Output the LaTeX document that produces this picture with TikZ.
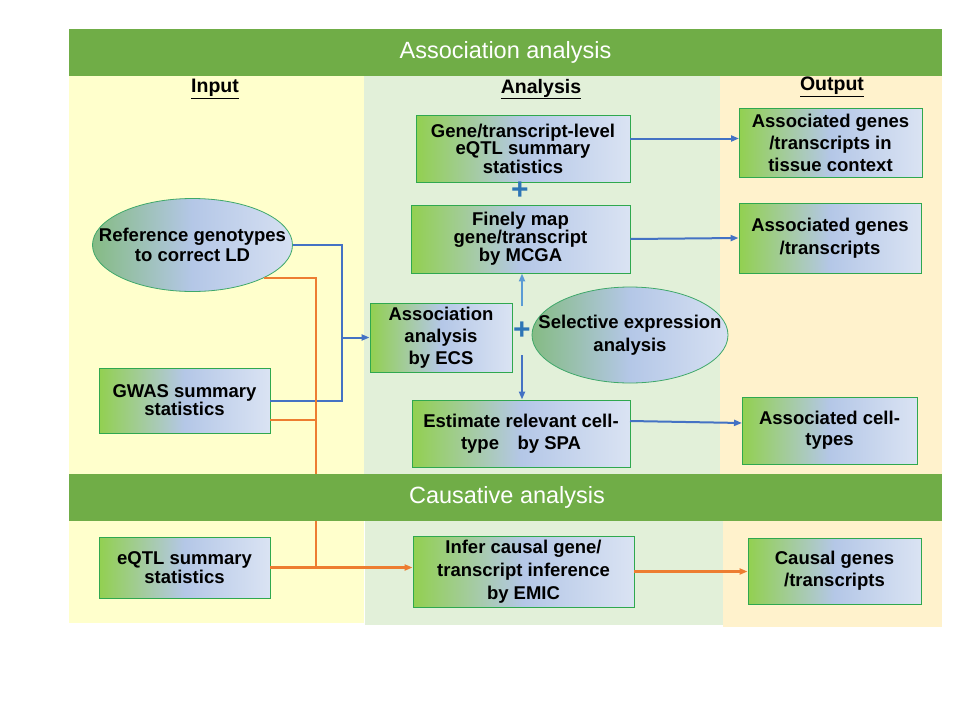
\documentclass[tikz,border=0pt]{standalone}
\usepackage{fontspec}
\setmainfont{Liberation Sans}
\usetikzlibrary{shapes.geometric,arrows.meta,calc}
\definecolor{barG}{HTML}{70AD47}
\definecolor{colY}{HTML}{FFFFCC}
\definecolor{colG}{HTML}{E2F0D9}
\definecolor{colO}{HTML}{FFF2CC}
\definecolor{bord}{HTML}{2FA84F}
\definecolor{gL}{HTML}{92D050}
\definecolor{gM}{HTML}{B4C7E7}
\definecolor{gR}{HTML}{DAE3F3}
\definecolor{eL}{HTML}{85BB84}
\definecolor{eM}{HTML}{B4C7E7}
\definecolor{eR}{HTML}{D6E0F2}
\definecolor{eBord}{HTML}{3FA86A}
\definecolor{ablue}{HTML}{4472C4}
\definecolor{lblue}{HTML}{5B9BD5}
\definecolor{plusb}{HTML}{2E75B6}
\definecolor{aorange}{HTML}{ED7D31}
\begin{document}
\begin{tikzpicture}[x=1pt,y=-1pt,
  box/.style={draw=bord, line width=0.9pt, left color=gL, right color=gR, middle color=gM,
              align=center, inner sep=0pt, text=black},
  ell/.style={ellipse, draw=eBord, line width=0.8pt, left color=eL, right color=eR, middle color=eM,
              align=center, inner xsep=-26pt, inner ysep=0pt, text=black},
  hdr/.style={inner sep=0pt, font=\fontsize{19.5}{22}\selectfont\bfseries},
  bartxt/.style={inner sep=0pt, text=white, font=\fontsize{23.5}{26}\selectfont},
  blueline/.style={draw=ablue, line width=2pt},
  bluearr/.style={draw=ablue, line width=2pt, -{Triangle[length=8pt,width=6pt]}},
  lbluearr/.style={draw=lblue, line width=2pt, -{Triangle[length=8pt,width=6pt]}},
  orline/.style={draw=aorange, line width=2.2pt},
  orarr/.style={draw=aorange, line width=2.2pt, -{Triangle[length=8pt,width=6pt]}},
  plus/.style={inner sep=0pt, text=plusb, font=\fontsize{30}{30}\selectfont\bfseries}
]
\useasboundingbox (0,0) rectangle (960,720);
\fill[white] (0,0) rectangle (960,720);
% column backgrounds
\fill[colY] (69,76) rectangle (364,623);
\fill[colG] (364,76) rectangle (720,474);
\fill[colG] (365,521) rectangle (723,625);
\fill[colO] (720,76) rectangle (942,474);
\fill[colO] (723,521) rectangle (942,627);
% top bar
\fill[barG] (69,29) rectangle (942,76);
\node[bartxt] (t1) at (505.5,52.5) {Association analysis};
% headers
\node[hdr] (hin) at (215,89) {\underline{Input}};
\node[hdr] (han) at (541,89) {\underline{Analysis}};
\node[hdr] (hout) at (832,87) {\underline{Output}};

% input
\node[ell, minimum width=200, minimum height=93, font=\fontsize{18.5}{20}\selectfont\bfseries] (ref) at (192.5,245) {Reference genotypes\\to correct LD};
\node[box, minimum width=171, minimum height=65, font=\fontsize{18.5}{15.5}\selectfont\bfseries] (gwas) at (184.5,400.5) {GWAS summary\\statistics};
\node[box, minimum width=171, minimum height=61, font=\fontsize{18.5}{17}\selectfont\bfseries] (eqtl) at (184.5,567.5) {eQTL summary\\statistics};

% analysis
\node[box, minimum width=214, minimum height=67, font=\fontsize{18.5}{15.5}\selectfont\bfseries] (gene) at (523,148.5) {Gene/transcript-level\\eQTL summary\\statistics};
\node[plus] (plus1) at (520,191) {+};
\node[box, minimum width=219, minimum height=68, font=\fontsize{18.5}{18}\selectfont\bfseries] (map) at (520.5,239) {Finely map\\gene/transcript\\by MCGA};
\node[box, minimum width=142, minimum height=69, font=\fontsize{18.5}{22}\selectfont\bfseries] (ecs) at (441,337.5) {Association\\analysis\\by ECS};
\node[plus] (plus2) at (522,331) {+};
\node[ell, minimum width=196, minimum height=96, font=\fontsize{18.5}{23}\selectfont\bfseries] (sel) at (630,335) {Selective expression\\analysis};
\node[box, minimum width=218, minimum height=67, font=\fontsize{18.5}{22}\selectfont\bfseries] (est) at (521,433.5) {Estimate relevant cell-\\type\quad by SPA};
\node[box, minimum width=221, minimum height=71, font=\fontsize{18.5}{23}\selectfont\bfseries] (infer) at (523.5,571.5) {Infer causal gene/\\transcript inference\\by EMIC};

% output
\node[box, minimum width=183, minimum height=69, font=\fontsize{18.5}{22}\selectfont\bfseries] (out1) at (830.5,142.5) {Associated genes\\/transcripts in\\tissue context};
\node[box, minimum width=182, minimum height=70, font=\fontsize{18.5}{23}\selectfont\bfseries] (out2) at (830,238) {Associated genes\\/transcripts};
\node[box, minimum width=175, minimum height=67, font=\fontsize{18.5}{21}\selectfont\bfseries] (out3) at (829.5,430.5) {Associated cell-\\types};
\node[box, minimum width=173, minimum height=66, font=\fontsize{18.5}{22}\selectfont\bfseries] (causal) at (834.5,571) {Causal genes\\/transcripts};

% connectors: input -> ECS
\coordinate (j1) at (342,337.5);
\draw[blueline] (ref.east) -| (j1);
\draw[blueline] (gwas.east) -| (j1);
\draw[bluearr] (j1) -- (ecs.west);
% orange connectors
\coordinate (oj) at (316,567.5);
\coordinate (gwo) at (270,420);
\draw[orline] (ref.-25) -| (oj);
\draw[orline] (gwo) -- (gwo -| oj);
\draw[orarr] (eqtl.east) -- (eqtl.east -| infer.west);
\draw[orarr] (infer.east) -- (infer.east -| causal.west);
% analysis -> output
\coordinate (a1) at (630,138.5);
\coordinate (b1) at (739,138.5);
\draw[bluearr] (a1) -- (b1);
\draw[bluearr] (map.east) -- (out2.west);
\coordinate (a3) at (630,421);
\coordinate (b3) at (742,423);
\draw[bluearr] (a3) -- (b3);
% plus arrows
\coordinate (u1) at (522,306);
\coordinate (d1) at (522,355);
\draw[lbluearr] (u1) -- (u1 |- map.south);
\draw[bluearr] (d1) -- (d1 |- est.north);

% causative bar (on top of the orange line)
\fill[barG] (69,474) rectangle (942,521);
\node[bartxt] (t2) at (507,497.5) {Causative analysis};
\end{tikzpicture}
\end{document}
